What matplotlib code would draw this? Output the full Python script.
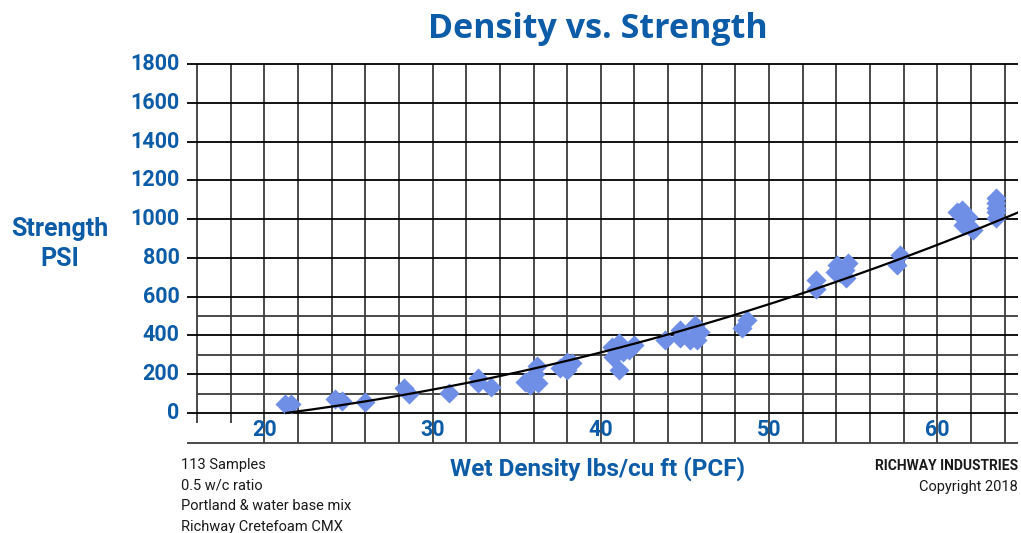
import numpy as np
import matplotlib
matplotlib.use("Agg")
import matplotlib.pyplot as plt

# values
density = [21.2, 21.6, 24.2, 24.6, 26.0, 28.3, 28.6, 31.0,
           32.7, 32.7, 33.5, 35.5, 35.8, 36.25, 36.2, 36.1,
           37.6, 38.0, 38.0, 38.3,
           40.65, 41.1, 40.7, 41.1, 41.7, 42.0, 41.3,
           43.8, 44.7, 44.7, 45.3, 45.6, 45.7, 45.9,
           48.4, 48.7, 52.8, 52.8,
           54.05, 53.9, 54.5, 54.7, 54.6, 54.2,
           57.6, 57.8,
           61.2, 61.5, 61.8, 61.55, 62.1,
           63.5, 63.5, 63.5, 63.5, 63.5]
strength = [46, 48, 72, 62, 57, 129, 98, 103,
            181, 155, 134, 160, 145, 155, 243, 200,
            232, 264, 222, 258,
            341, 362, 289, 222, 326, 351, 315,
            377, 429, 388, 377, 455, 377, 419,
            439, 481, 687, 641,
            765, 729, 739, 775, 698, 723,
            765, 817,
            1039, 1049, 1013, 972, 946,
            1111, 1085, 1059, 1034, 1008]

# 2nd order trendline as drawn in the picture: y = a*(x-x0)^2 + b*(x-x0)
trend_x0 = 21.3
trend_a = 0.2853
trend_b = 11.36

y_ticks = [0, 200, 400, 600, 800, 1000, 1200, 1400, 1600, 1800]
y_minor = [100, 300, 500]
x_grid = list(range(16, 65, 2))
x_labels = [20, 30, 40, 50, 60]

notes = ["113 Samples", "0.5 w/c ratio", "Portland & water base mix",
         "Richway Cretefoam CMX"]

blue = "#0d5ca8"
marker_col = "#6f8ee6"
grid_col = "#3c3c3c"

W, H = 1021, 533
fig = plt.figure(figsize=(W / 100, H / 100), dpi=100)
ax = fig.add_axes([187 / W, 1 - 443 / H, (1018 - 187) / W, (443 - 64) / H])
xmin, xmax = 15.4, 64.8
ymin, ymax = -155, 1800
ax.set_xlim(xmin, xmax)
ax.set_ylim(ymin, ymax)
for s in ax.spines.values():
    s.set_visible(False)
ax.set_xticks([])
ax.set_yticks([])

# grid
for x in x_grid:
    lo = -52 if x < 20 else ymin
    ax.vlines(x, lo, ymax, color=grid_col, lw=1.3, zorder=1)
for y in y_ticks + [ymin]:
    ax.hlines(y, xmin, xmax, color="black" if y != ymin else grid_col,
              lw=1.3, zorder=1, clip_on=False)
for y in y_minor:
    ax.hlines(y, 16, xmax, color=grid_col, lw=1.3, zorder=1)

# data + trendline
ax.scatter(density, strength, marker="D", s=105, color=marker_col,
           linewidths=0, zorder=3)
xs = np.linspace(trend_x0, xmax, 200)
d = xs - trend_x0
ax.plot(xs, trend_a * d ** 2 + trend_b * d, color="black", lw=1.6, zorder=4)

lab = dict(color=blue, fontsize=15.5, fontweight="bold", family="Roboto")
for y in y_ticks:
    ax.text(xmin - 0.45, y, str(y), ha="right", va="center", **lab)
for x in x_labels:
    ax.text(x, -88, str(x), ha="center", va="center", **lab)

fig.text(598 / W, 1 - 29 / H, "Density vs. Strength", ha="center",
         va="center", color=blue, fontsize=24.5, fontweight="bold",
         family="Open Sans")
fig.text(60 / W, 1 - 229 / H, "Strength", ha="center", va="center",
         color=blue, fontsize=18, fontweight="bold", family="Roboto")
fig.text(60 / W, 1 - 259 / H, "PSI", ha="center", va="center",
         color=blue, fontsize=18, fontweight="bold", family="Roboto")
fig.text(598 / W, 1 - 469 / H, "Wet Density lbs/cu ft (PCF)", ha="center",
         va="center", color=blue, fontsize=17.5, fontweight="bold",
         family="Roboto")

for i, t in enumerate(notes):
    fig.text(181 / W, 1 - (465 + 20.5 * i) / H, t, ha="left", va="center",
             fontsize=10.5, family="Roboto", color="#1a1a1a")
fig.text(1018 / W, 1 - 466 / H, "RICHWAY INDUSTRIES", ha="right",
         va="center", fontsize=10, fontweight="bold", family="Roboto",
         color="#1a1a1a")
fig.text(1018 / W, 1 - 487 / H, "Copyright 2018", ha="right", va="center",
         fontsize=10.5, family="Roboto", color="#1a1a1a")

fig.savefig("out.png", dpi=100)
